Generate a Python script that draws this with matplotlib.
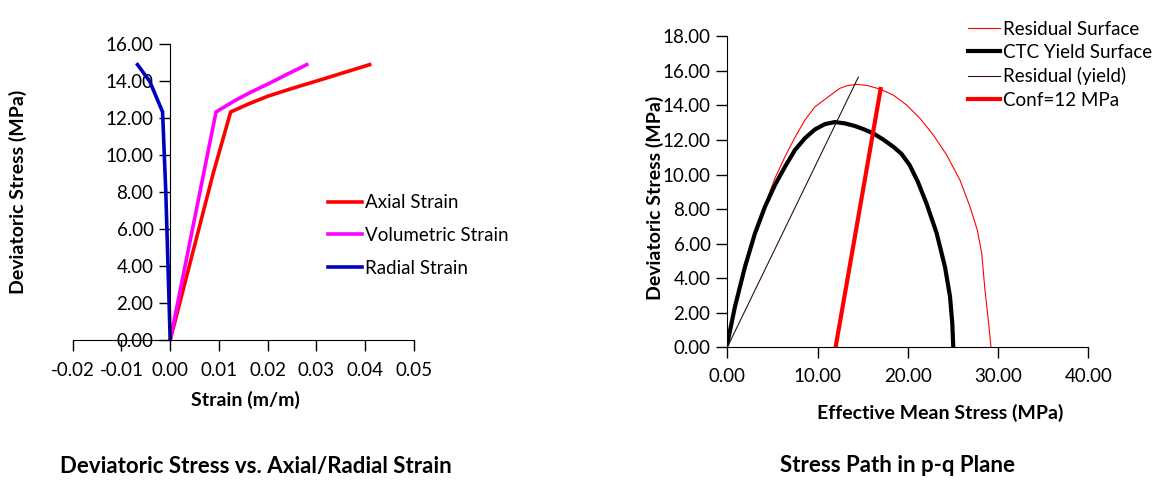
import matplotlib
matplotlib.use("Agg")
import matplotlib.pyplot as plt

plt.rcParams['font.family'] = ['Lato', 'DejaVu Sans']

# left chart: deviatoric stress vs strain
axial_x = [0.0, 0.0088, 0.0124, 0.0163, 0.0201, 0.0252, 0.0301, 0.0355, 0.0409]
axial_y = [0.0, 9.0, 12.34, 12.8, 13.2, 13.63, 14.02, 14.46, 14.9]
vol_x = [0.0, 0.0094, 0.0129, 0.0163, 0.0201, 0.0239, 0.028]
vol_y = [0.0, 12.34, 12.9, 13.38, 13.86, 14.37, 14.9]
rad_x = [0.0, -0.0009, -0.00156, -0.0042, -0.0067]
rad_y = [0.0, 8.0, 12.34, 14.0, 14.9]

# right chart: p-q plane
res_p = [0.0, 0.85, 1.96, 3.07, 3.81, 5.28, 6.39, 7.5, 8.6, 9.71, 10.71, 12.46, 13.23,
         14.34, 15.45, 16.92, 18.39, 19.88, 21.35, 22.83, 24.31, 25.78, 26.89, 27.7,
         28.19, 28.55, 28.92, 29.22]
res_q = [0.0, 2.4, 4.7, 6.65, 7.75, 9.78, 11.03, 12.15, 13.15, 13.92, 14.31, 14.99, 15.14,
         15.22, 15.16, 14.95, 14.6, 14.02, 13.25, 12.29, 11.13, 9.68, 8.14, 6.79,
         5.44, 3.32, 1.58, 0.0]
ctc_p = [0.0, 0.85, 1.96, 3.07, 4.18, 5.28, 6.39, 7.5, 8.6, 9.71, 10.82, 11.93, 13.04,
         14.14, 15.18, 16.18, 17.3, 18.39, 19.3, 20.2, 21.1, 22.09, 23.2, 24.12, 24.68,
         24.93, 25.04]
ctc_q = [0.2, 2.35, 4.66, 6.6, 8.14, 9.39, 10.45, 11.42, 12.1, 12.61, 12.92, 13.04, 12.96,
         12.81, 12.61, 12.38, 12.02, 11.61, 11.2, 10.55, 9.6, 8.3, 6.6, 4.66, 2.93,
         1.39, 0.0]
ryield_p = [0.0, 14.52]
ryield_q = [0.0, 15.64]
conf_p = [12.0, 16.99]
conf_q = [0.0, 14.95]

fs = 13.5
fig = plt.figure(figsize=(11.59, 4.93), dpi=100)

ax1 = fig.add_axes([0.0627, 0.3103, 0.2945, 0.5998])
ax1.plot(axial_x, axial_y, color='#ff0000', lw=2.6, label='Axial Strain')
ax1.plot(vol_x, vol_y, color='#ff00ff', lw=2.6, label='Volumetric Strain')
ax1.plot(rad_x, rad_y, color='#0000c0', lw=2.6, label='Radial Strain')
ax1.set_xlim(-0.02, 0.05)
ax1.set_ylim(0, 16)
ax1.set_xticks([-0.02, -0.01, 0.0, 0.01, 0.02, 0.03, 0.04, 0.05])
ax1.set_xticklabels(['-0.02', '-0.01', '0.00', '0.01', '0.02', '0.03', '0.04', '0.05'])
ax1.set_yticks(range(0, 17, 2))
ax1.set_yticklabels(['%.2f' % v for v in range(0, 17, 2)])
ax1.spines['left'].set_position(('data', 0))
ax1.spines['right'].set_visible(False)
ax1.spines['top'].set_visible(False)
ax1.tick_params(labelsize=fs, length=8, width=1, direction='out', pad=4)
ax1.tick_params(axis='x', pad=8)
ax1.legend(loc='upper left', bbox_to_anchor=(0.721, 0.524), frameon=False, fontsize=fs,
           handlelength=1.8, handletextpad=0.15, labelspacing=0.83, borderpad=0)

ax2 = fig.add_axes([0.6275, 0.2955, 0.3115, 0.6308])
ax2.plot(res_p, res_q, color='#ff0000', lw=0.8, label='Residual Surface')
ax2.plot(ctc_p, ctc_q, color='black', lw=3, label='CTC Yield Surface')
ax2.plot(ryield_p, ryield_q, color='#301010', lw=0.8, label='Residual (yield)')
ax2.plot(conf_p, conf_q, color='#ff0000', lw=3, label='Conf=12 MPa')
ax2.set_xlim(0, 40)
ax2.set_ylim(0, 18)
ax2.set_xticks(range(0, 41, 10))
ax2.set_xticklabels(['%.2f' % v for v in range(0, 41, 10)])
ax2.set_yticks(range(0, 19, 2))
ax2.set_yticklabels(['%.2f' % v for v in range(0, 19, 2)])
ax2.spines['right'].set_visible(False)
ax2.spines['top'].set_visible(False)
ax2.tick_params(labelsize=fs, length=8, width=1, direction='out', pad=4)
ax2.tick_params(axis='x', pad=7)
ax2.legend(loc='upper left', bbox_to_anchor=(0.641, 1.081), frameon=False, fontsize=fs,
           handlelength=1.7, handletextpad=0.15, labelspacing=0.34, borderpad=0)

bold = dict(fontsize=14, fontweight='bold', ha='center', va='center')
fig.text(18 / 1159, 1 - 192 / 493, 'Deviatoric Stress (MPa)', rotation=90, **bold)
fig.text(245 / 1159, 1 - 400 / 493, 'Strain (m/m)', **bold)
fig.text(256 / 1159, 1 - 466 / 493, 'Deviatoric Stress vs. Axial/Radial Strain', fontsize=16,
         fontweight='bold', ha='center', va='center')
fig.text(655 / 1159, 1 - 198 / 493, 'Deviatoric Stress (MPa)', rotation=90, **bold)
fig.text(940 / 1159, 1 - 413 / 493, 'Effective Mean Stress (MPa)', **bold)
fig.text(898 / 1159, 1 - 466 / 493, 'Stress Path in p-q Plane', fontsize=16,
         fontweight='bold', ha='center', va='center')

fig.savefig('out.png', dpi=100)
